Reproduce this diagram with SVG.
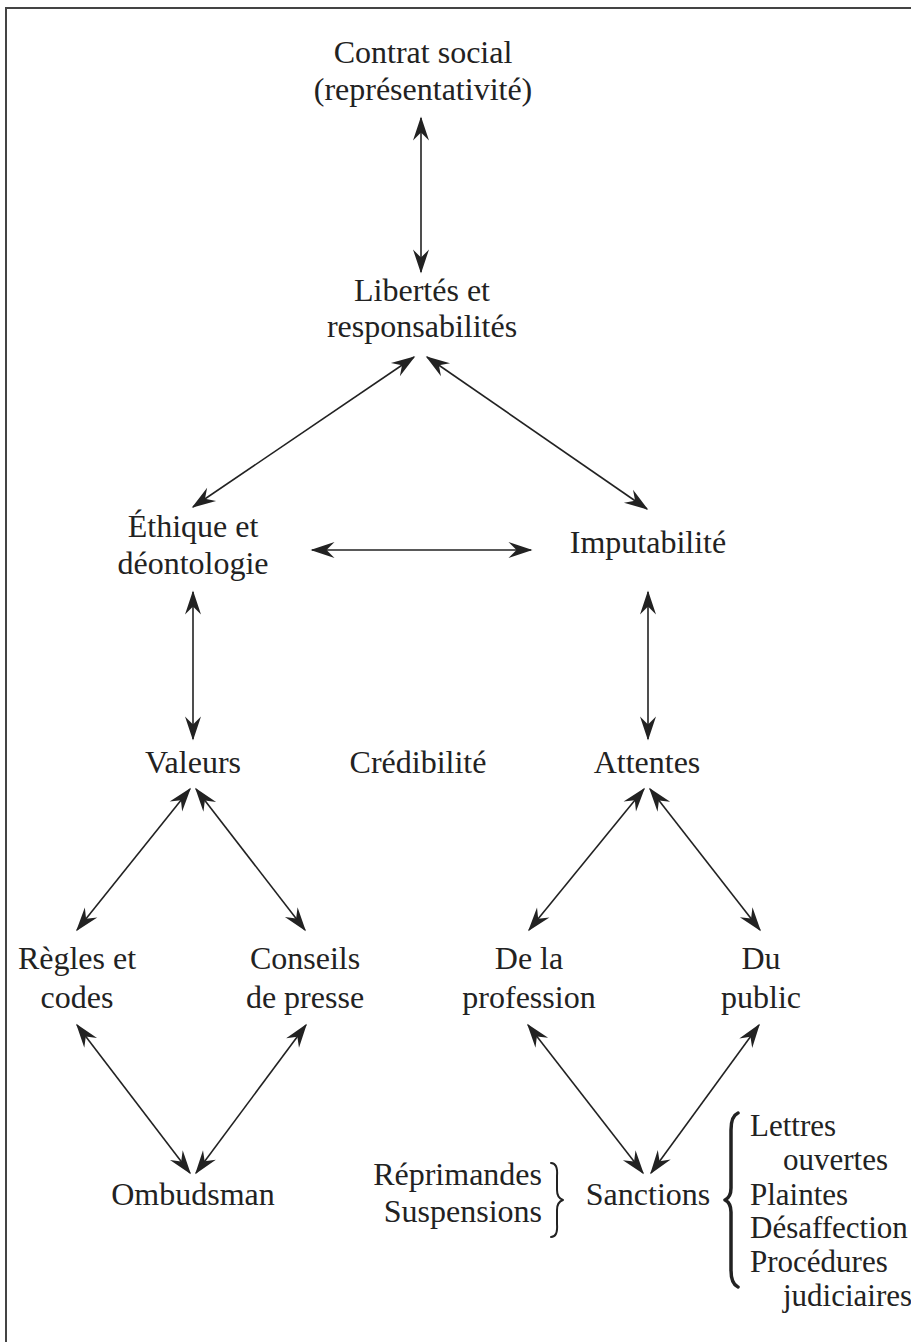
<svg xmlns="http://www.w3.org/2000/svg" width="911" height="1342" viewBox="0 0 911 1342">
<defs>
<style>
text{font-family:"Liberation Serif","DejaVu Serif",serif;font-size:32px;fill:#222}
.l{font-size:31px}
.c{text-anchor:middle}
.e{text-anchor:end}
.conn line{stroke:#222;stroke-width:1.6;marker-start:url(#ah);marker-end:url(#ah)}
.brace{fill:none;stroke:#222;stroke-linecap:round;stroke-linejoin:round}
</style>
<marker id="ah" viewBox="-26 -10 28 20" refX="-1.5" refY="0" markerWidth="28" markerHeight="20" markerUnits="userSpaceOnUse" orient="auto-start-reverse">
<path d="M0,0 L-24,-8 L-16,0 L-24,8 Z" fill="#222"/>
</marker>
</defs>
<rect width="911" height="1342" fill="#fff"/>
<path d="M6,1342 V8 H911" fill="none" stroke="#444" stroke-width="2"/>

<g id="contrat"><text class="c" x="423" y="63">Contrat social</text><text class="c" x="423" y="100">(représentativité)</text></g>
<g id="libertes"><text class="c" x="422" y="301">Libertés et</text><text class="c" x="422" y="337">responsabilités</text></g>
<g id="ethique"><text class="c" x="193" y="537">Éthique et</text><text class="c" x="193" y="574">déontologie</text></g>
<g id="imputabilite"><text class="c" x="648" y="553">Imputabilité</text></g>
<g id="valeurs"><text class="c" x="193" y="773">Valeurs</text></g>
<g id="credibilite"><text class="c" x="418" y="773">Crédibilité</text></g>
<g id="attentes"><text class="c" x="647" y="773">Attentes</text></g>
<g id="regles"><text class="c" x="77" y="969">Règles et</text><text class="c" x="77" y="1008">codes</text></g>
<g id="conseils"><text class="c" x="305" y="969">Conseils</text><text class="c" x="305" y="1008">de presse</text></g>
<g id="profession"><text class="c" x="529" y="969">De la</text><text class="c" x="529" y="1008">profession</text></g>
<g id="public"><text class="c" x="761" y="969">Du</text><text class="c" x="761" y="1008">public</text></g>
<g id="ombudsman"><text class="c" x="193" y="1205">Ombudsman</text></g>
<g id="sanctions"><text class="c" x="648" y="1205">Sanctions</text></g>
<g id="reprimandes">
<text class="e" x="542" y="1185">Réprimandes</text><text class="e" x="542" y="1222">Suspensions</text>
<path class="brace" stroke-width="2" d="M551,1163 Q558,1163 557,1176 L557,1190 Q557,1198 563,1200 Q557,1202 557,1210 L557,1224 Q558,1237 551,1237"/>
</g>
<g id="publicsanctions">
<path class="brace" stroke-width="3.5" d="M738,1113 Q731,1116 731,1130 L731,1188 Q731,1197 725,1200 Q731,1203 731,1212 L731,1270 Q731,1284 738,1287"/>
<text class="l" x="750" y="1136">Lettres</text>
<text class="l" x="783" y="1170">ouvertes</text>
<text class="l" x="750" y="1205">Plaintes</text>
<text class="l" x="750" y="1238">Désaffection</text>
<text class="l" x="750" y="1272">Procédures</text>
<text class="l" x="783" y="1306">judiciaires</text>
</g>

<g id="connectors" class="conn">
<line x1="421" y1="118" x2="421" y2="272"/>
<line x1="414" y1="357" x2="193" y2="507"/>
<line x1="427" y1="357" x2="647" y2="509"/>
<line x1="312" y1="550" x2="531" y2="550"/>
<line x1="193" y1="592" x2="193" y2="739"/>
<line x1="648" y1="592" x2="648" y2="739"/>
<line x1="190" y1="789" x2="77" y2="930"/>
<line x1="196" y1="789" x2="305" y2="930"/>
<line x1="644" y1="789" x2="529" y2="930"/>
<line x1="650" y1="789" x2="760" y2="930"/>
<line x1="77" y1="1025" x2="190" y2="1173"/>
<line x1="306" y1="1025" x2="196" y2="1173"/>
<line x1="528" y1="1025" x2="643" y2="1173"/>
<line x1="759" y1="1025" x2="651" y2="1173"/>
</g>
</svg>
